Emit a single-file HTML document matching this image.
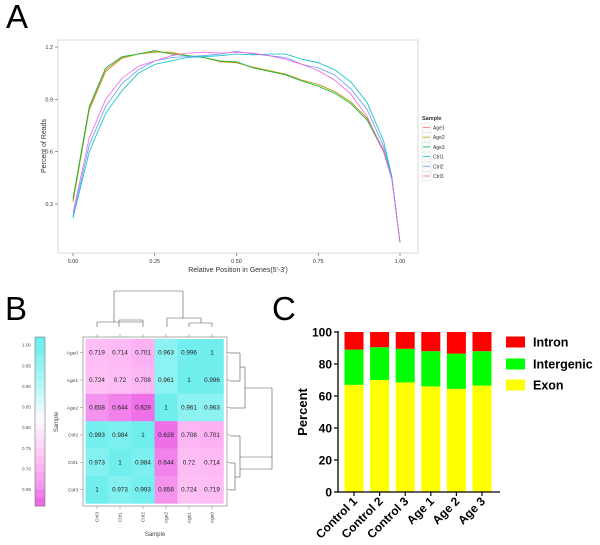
<!DOCTYPE html>
<html><head><meta charset="utf-8">
<style>
html,body{margin:0;padding:0;background:#fff;}
body{width:600px;height:545px;overflow:hidden;font-family:"Liberation Sans",sans-serif;}
svg{position:absolute;left:0;top:0;}
</style></head>
<body>
<svg id="fig" width="600" height="545" viewBox="0 0 600 545">
  <text x="6" y="28" font-size="33">A</text>
  <text x="5" y="320" font-size="33">B</text>
  <text x="272" y="320" font-size="33">C</text>
  <g id="pa"></g>
  <g id="pb"></g>
  <g id="pc"></g>
</svg>
<script>
// ---------- Panel A data ----------
const aX = [0,0.05,0.1,0.15,0.2,0.25,0.3,0.35,0.4,0.45,0.5,0.55,0.6,0.65,0.7,0.75,0.8,0.85,0.9,0.95,0.975,1];
const aSamples = ["Age1","Age2","Age3","Ctrl1","Ctrl2","Ctrl3"];
const aColors = ["#F8766D","#B79F00","#00BA38","#00BFC4","#619CFF","#F564E3"];
const age1 = [0.32,0.85,1.07,1.14,1.16,1.175,1.165,1.15,1.14,1.12,1.11,1.085,1.065,1.04,1.01,0.985,0.945,0.885,0.79,0.61,0.45,0.08];
const age2 = [0.31,0.84,1.06,1.135,1.16,1.17,1.17,1.15,1.14,1.115,1.11,1.085,1.065,1.045,1.01,0.985,0.945,0.885,0.79,0.6,0.45,0.08];
const age3 = [0.33,0.86,1.08,1.145,1.16,1.18,1.16,1.15,1.14,1.12,1.115,1.08,1.06,1.04,1.005,0.975,0.935,0.875,0.78,0.6,0.45,0.08];
const ctrl1 = [0.22,0.6,0.82,0.95,1.05,1.1,1.12,1.14,1.145,1.15,1.16,1.155,1.16,1.16,1.13,1.11,1.07,1.0,0.88,0.66,0.46,0.08];
const ctrl2 = [0.23,0.64,0.86,0.99,1.07,1.12,1.14,1.145,1.15,1.16,1.175,1.16,1.15,1.14,1.1,1.08,1.04,0.96,0.84,0.63,0.45,0.08];
const ctrl3 = [0.25,0.68,0.9,1.02,1.09,1.12,1.15,1.165,1.17,1.165,1.17,1.165,1.15,1.13,1.1,1.065,1.01,0.93,0.8,0.6,0.44,0.08];
const aYTicks = [0.3,0.6,0.9,1.2];
const aXTicks = [0,0.25,0.5,0.75,1];

// ---------- Panel B data ----------
const bCols = ["Ctrl3","Ctrl1","Ctrl2","Age2","Age1","Age0"];
const bRows = ["Age0","Age1","Age2","Ctrl2","Ctrl1","Ctrl3"];
const bRow0 = [0.719,0.714,0.701,0.963,0.996,1];
const bRow1 = [0.724,0.72,0.708,0.961,1,0.996];
const bRow2 = [0.658,0.644,0.628,1,0.961,0.963];
const bRow3 = [0.993,0.984,1,0.628,0.708,0.701];
const bRow4 = [0.973,1,0.984,0.644,0.72,0.714];
const bRow5 = [1,0.973,0.993,0.658,0.724,0.719];
const bScaleTicks = [0.65,0.7,0.75,0.8,0.85,0.9,0.95,1.0];

// ---------- Panel C data ----------
const cCats = ["Control 1","Control 2","Control 3","Age 1","Age 2","Age 3"];
const cExon = [67,70,68.5,66,64.5,66.5];
const cIntergenic = [22,20.5,21,22,22,21.5];
const cIntron = [11,9.5,10.5,12,13.5,12];
const cYTicks = [0,20,40,60,80,100];

const NS="http://www.w3.org/2000/svg";
function mk(parent,tag,attrs,text){const e=document.createElementNS(NS,tag);for(const k in attrs)e.setAttribute(k,attrs[k]);if(text!==undefined)e.textContent=text;parent.appendChild(e);return e;}

// ---------- Panel A ----------
(function(){
  const g=document.getElementById('pa');
  const xs=v=>73+v*(400-73);
  const ys=v=>204-(v-0.3)*(204-47)/0.9;
  const frame=mk(g,'rect',{x:58,y:40,width:360,height:213,fill:'#fff',stroke:'#d8d8d8','stroke-width':1});
  
  
  aYTicks.forEach(t=>{
    mk(g,'line',{x1:55,x2:58,y1:ys(t),y2:ys(t),stroke:'#555','stroke-width':0.6});
    const tx=mk(g,'text',{x:53,y:ys(t)+2,'font-size':5.5,'text-anchor':'end',fill:'#333'},t.toFixed(1));
    
    
  });
  aXTicks.forEach(t=>{
    mk(g,'line',{x1:xs(t),x2:xs(t),y1:253,y2:256,stroke:'#555','stroke-width':0.6});
    const tx=mk(g,'text',{x:xs(t),y:263,'font-size':5.5,'text-anchor':'middle',fill:'#333'},t.toFixed(2));
    
    
  });
  const xt=mk(g,'text',{x:238,y:272,'font-size':7,'text-anchor':'middle',fill:'#333'},"Relative Position in Genes(5'-3')");
  
  
  const yt=mk(g,'text',{x:0,y:0,'font-size':7,'text-anchor':'middle',fill:'#333',transform:'translate(46,146) rotate(-90)'},'Percent of Reads');
  
  
  const series=[age1,age2,age3,ctrl1,ctrl2,ctrl3];
  series.forEach((s,i)=>{
    const pts=s.map((v,j)=>xs(aX[j]).toFixed(1)+','+ys(v).toFixed(1)).join(' ');
    const p=mk(g,'polyline',{points:pts,fill:'none',stroke:aColors[i],'stroke-width':0.8,'stroke-linejoin':'round'});
    
    
  });
  const lt=mk(g,'text',{x:422,y:120,'font-size':5.5,'font-weight':'bold',fill:'#333'},'Sample');
  
  
  aSamples.forEach((n,i)=>{
    const y=127+i*9.7;
    mk(g,'rect',{x:422,y:y-4,width:9,height:9.5,fill:'#fafafa',stroke:'#e0e0e0','stroke-width':0.5});
    const l=mk(g,'line',{x1:423,x2:430,y1:y+0.5,y2:y+0.5,stroke:aColors[i],'stroke-width':0.8});
    
    
    mk(g,'text',{x:433,y:y+2.5,'font-size':5,fill:'#333'},n);
  });
})();

// ---------- Panel B ----------
(function(){
  const g=document.getElementById('pb');
  const rows=[bRow0,bRow1,bRow2,bRow3,bRow4,bRow5];
  const x0=85.5,y0=339,cw=23,ch=27.4;
  const stops=[[0.6,[232,90,228]],[0.63,[238,112,232]],[0.66,[244,150,238]],[0.72,[254,190,245]],[0.82,[255,250,255]],[0.9,[185,248,248]],[0.96,[142,242,242]],[1.0,[112,238,238]],[1.05,[100,234,234]]];
  function col(v){
    for(let k=0;k<stops.length-1;k++){
      const [a,ca]=stops[k],[b,cb]=stops[k+1];
      if(v<=b||k===stops.length-2){
        const t=Math.max(0,Math.min(1,(v-a)/(b-a)));
        return 'rgb('+ca.map((c,m)=>Math.round(c+(cb[m]-c)*t)).join(',')+')';
      }
    }
  }
  mk(g,'rect',{x:83,y:337,width:144,height:169,fill:'#fff',stroke:'#999','stroke-width':0.8});
  rows.forEach((r,i)=>r.forEach((v,j)=>{
    const c=mk(g,'rect',{x:x0+j*cw,y:y0+i*ch,width:cw+0.3,height:ch+0.3,fill:col(v)});
    
    
    mk(g,'text',{x:x0+j*cw+cw/2,y:y0+i*ch+ch/2+2,'font-size':6.3,'text-anchor':'middle',fill:'#222'},String(v));
  }));
  bRows.forEach((n,i)=>{
    const y=y0+i*ch+ch/2;
    mk(g,'line',{x1:80,x2:83,y1:y,y2:y,stroke:'#777','stroke-width':0.5});
    mk(g,'line',{x1:227,x2:230,y1:y,y2:y,stroke:'#777','stroke-width':0.5});
    const t=mk(g,'text',{x:78,y:y+1.8,'font-size':4.8,'text-anchor':'end',fill:'#444'},n);
    
    
  });
  bCols.forEach((n,j)=>{
    const x=x0+j*cw+cw/2;
    mk(g,'line',{x1:x,x2:x,y1:334,y2:337,stroke:'#777','stroke-width':0.5});
    mk(g,'line',{x1:x,x2:x,y1:506,y2:509,stroke:'#777','stroke-width':0.5});
    const t=mk(g,'text',{x:0,y:0,'font-size':4.8,'text-anchor':'end',fill:'#444',transform:'translate('+(x+1.7)+',512) rotate(-90)'},n);
    
    
  });
  const xt=mk(g,'text',{x:155,y:536,'font-size':6,'text-anchor':'middle',fill:'#444'},'Sample');
  
  
  const yt=mk(g,'text',{x:0,y:0,'font-size':6,'text-anchor':'middle',fill:'#444',transform:'translate(58,422) rotate(-90)'},'Sample');
  
  
  const dp='#555';
  [[97,322,143,322],[119,320,143,320],[97,322,97,327],[143,320,143,327],[119,320,119,327],
   [167,318,201,318],[167,318,167,327],[189,323,212,323],[189,323,189,327],[212,323,212,327],[201,318,201,323],
   [114,291,183,291],[114,291,114,322],[183,291,183,318]].forEach(s=>mk(g,'line',{x1:s[0],y1:s[1],x2:s[2],y2:s[3],stroke:dp,'stroke-width':0.6}));
  [[230,353,240,353],[230,381,240,381],[240,353,240,381],[240,367,245,367],[230,408,245,408],[245,367,245,408],[245,388,272,388],
   [230,436,240,436],[230,463,235,463],[230,490,235,490],[235,463,235,490],[235,477,240,477],[240,436,240,477],[240,457,272,457],[272,388,272,469],[240,469,272,469]
  ].forEach(s=>mk(g,'line',{x1:s[0],y1:s[1],x2:s[2],y2:s[3],stroke:dp,'stroke-width':0.6}));
  const sy=v=>506-(v-0.61)/(1.02-0.61)*169;
  for(let k=0;k<20;k++){
    const v0=0.61+k*(0.41/20);
    mk(g,'rect',{x:35,y:sy(v0+0.0205),width:10,height:169/20+0.4,fill:col(v0+0.01)});
  }
  const sb=mk(g,'rect',{x:35,y:337,width:10,height:169,fill:'none',stroke:'#777','stroke-width':0.6});
  
  
  bScaleTicks.forEach(t=>{
    mk(g,'text',{x:31,y:sy(t)+1.5,'font-size':4.6,'text-anchor':'end',fill:'#555'},t.toFixed(2));
  });
})();

// ---------- Panel C ----------
(function(){
  const g=document.getElementById('pc');
  const ys=v=>492-v*1.6;
  const xc=i=>354+i*25.6;
  const bw=19;
  cCats.forEach((c,i)=>{
    const a=cExon[i],b=cIntergenic[i],d=cIntron[i];
    const r1=mk(g,'rect',{x:xc(i)-bw/2,y:ys(a),width:bw,height:ys(0)-ys(a),fill:'#FFFF00'});
    
    
    const r2=mk(g,'rect',{x:xc(i)-bw/2,y:ys(a+b),width:bw,height:ys(a)-ys(a+b),fill:'#00FF00'});
    
    
    const r3=mk(g,'rect',{x:xc(i)-bw/2,y:ys(a+b+d),width:bw,height:ys(a+b)-ys(a+b+d),fill:'#FF0000'});
    
    
    mk(g,'line',{x1:xc(i),x2:xc(i),y1:492,y2:496,stroke:'#000','stroke-width':1.2});
    const t=mk(g,'text',{x:0,y:0,'font-size':12,'font-weight':'bold','text-anchor':'end',transform:'translate('+(xc(i)+4)+',502) rotate(-45)'},c);
    
    
  });
  mk(g,'line',{x1:338,x2:338,y1:331,y2:492.6,stroke:'#000','stroke-width':1.3});
  mk(g,'line',{x1:337.4,x2:500,y1:492,y2:492,stroke:'#000','stroke-width':1.3});
  cYTicks.forEach(t=>{
    mk(g,'line',{x1:334,x2:338,y1:ys(t),y2:ys(t),stroke:'#000','stroke-width':1.2});
    const tx=mk(g,'text',{x:332,y:ys(t)+4.5,'font-size':12,'font-weight':'bold','text-anchor':'end'},String(t));
    
    
  });
  const yt=mk(g,'text',{x:0,y:0,'font-size':13,'font-weight':'bold','text-anchor':'middle',transform:'translate(307,412) rotate(-90)'},'Percent');
  
  
  [['Intron','#FF0000',342],['Intergenic','#00FF00',364],['Exon','#FFFF00',385]].forEach(e=>{
    const r=mk(g,'rect',{x:506,y:e[2]-5.5,width:19,height:11,fill:e[1]});
    
    
    mk(g,'text',{x:533,y:e[2]+4.5,'font-size':12.5,'font-weight':'bold'},e[0]);
  });
})();
</script>
</body></html>
